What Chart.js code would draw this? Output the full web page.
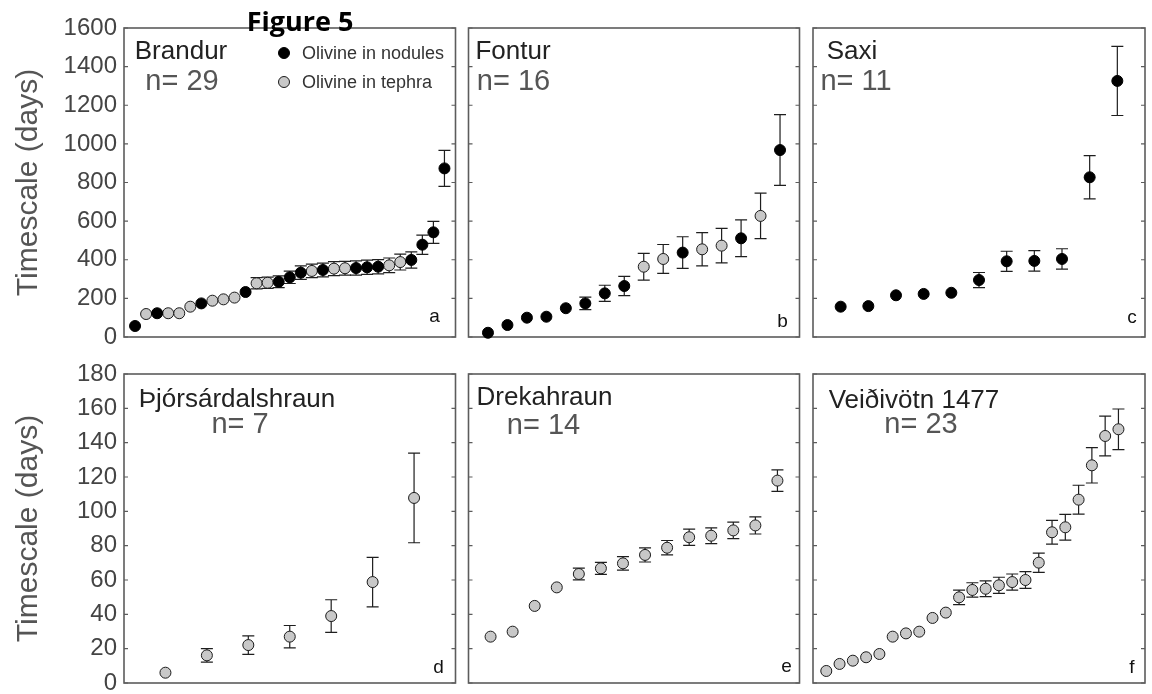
<!DOCTYPE html>
<html>
<head>
<meta charset="utf-8">
<script src="https://cdn.jsdelivr.net/npm/chart.js@4.4.1/dist/chart.umd.min.js"></script>
<style>
  html, body { margin: 0; padding: 0; background: #fff; overflow: hidden; width: 1152px; height: 694px; }
  canvas { position: absolute; }
</style>
</head>
<body>
<canvas id="pa"></canvas>
<canvas id="pb"></canvas>
<canvas id="pc"></canvas>
<canvas id="pd"></canvas>
<canvas id="pe"></canvas>
<canvas id="pf"></canvas>
<script>
// ---- Data: timescales (days), sorted per locality; N = olivine in nodules, T = olivine in tephra ----
const brandurValues = [57, 119, 123, 123, 123, 157, 174, 188, 195, 204, 233, 278, 281, 286, 309, 333, 342, 347, 354, 356, 357, 361, 364, 371, 388, 399, 478, 542, 873];
const brandurErrors = [null, null, null, null, null, null, null, null, null, null, null, 29, 29, 30, 32, 35, 35, 36, 36, 36, 37, 37, 37, 38, 41, 42, 50, 57, 93];
const brandurTypes  = ['N','T','N','T','T','T','N','T','T','T','N','T','T','N','N','N','T','N','T','T','N','N','N','T','T','N','N','N','N'];

const fonturValues = [22, 62, 100, 105, 149, 174, 226, 264, 364, 404, 437, 454, 473, 511, 627, 968];
const fonturErrors = [null, null, null, null, null, 32, 42, 50, 69, 75, 82, 86, 89, 95, 118, 183];
const fonturTypes  = ['N','N','N','N','N','N','N','N','T','T','N','T','T','N','T','N'];

const saxiValues = [157, 160, 216, 223, 229, 295, 392, 394, 404, 827, 1326];
const saxiErrors = [null, null, null, null, null, 39, 52, 53, 53, 112, 179];
const saxiTypes  = ['N','N','N','N','N','N','N','N','N','N','N'];

const thjorsValues = [6.0, 16.1, 22.1, 27.0, 39.0, 58.8, 107.8];
const thjorsErrors = [null, 3.9, 5.4, 6.5, 9.5, 14.4, 26.1];
const thjorsTypes  = ['T','T','T','T','T','T','T'];

const drekaValues = [27.0, 29.9, 44.9, 55.7, 63.5, 66.8, 69.7, 74.6, 78.8, 84.9, 85.8, 88.9, 91.8, 117.9];
const drekaErrors = [null, null, null, null, 3.4, 3.5, 3.9, 4.1, 4.2, 4.7, 4.6, 4.8, 5.0, 6.3];
const drekaTypes  = ['T','T','T','T','T','T','T','T','T','T','T','T','T','T'];

const veidiValues = [7.0, 11.1, 13.0, 15.0, 16.9, 27.0, 28.9, 29.9, 37.9, 41.0, 49.9, 54.2, 54.9, 56.9, 58.8, 60.0, 70.1, 87.8, 90.7, 106.8, 126.8, 143.9, 147.8];
const veidiErrors = [null, null, null, null, null, null, null, null, null, null, 4.2, 4.2, 4.6, 4.7, 4.7, 4.9, 5.6, 6.9, 7.5, 8.4, 10.3, 11.6, 11.8];
const veidiTypes  = ['T','T','T','T','T','T','T','T','T','T','T','T','T','T','T','T','T','T','T','T','T','T','T'];

// Axis ranges and tick labels
const topTickValues = [0, 200, 400, 600, 800, 1000, 1200, 1400, 1600];
const bottomTickValues = [0, 20, 40, 60, 80, 100, 120, 140, 160, 180];
const typeLabels = { N: 'Olivine in nodules', T: 'Olivine in tephra' };

// ---- Styling / layout ----
const FONT = "'Liberation Sans', Arial, sans-serif";
const markerStyle = {
  N: { fill: '#000000', stroke: '#000000' },
  T: { fill: '#c8c8c8', stroke: '#1a1a1a' }
};
const POINT_R = 5.5;

const cols = [
  { x: 0,   w: 462, padL: 0, padR: 4 },
  { x: 462, w: 344, padL: 6, padR: 6 },
  { x: 806, w: 346, padL: 7, padR: 7 }
];
const rows = [
  { y: 0,   h: 347, padT: 28, padB: 10, ticks: topTickValues },
  { y: 347, h: 347, padT: 27, padB: 11, ticks: bottomTickValues }
];

const panels = [
  { id: 'pa', row: 0, col: 0, xMax: 30, values: brandurValues, errors: brandurErrors, types: brandurTypes,
    name: 'Brandur', n: 'n= 29', letter: 'a', nameAt: [57, 24], nAt: [58, 54], letterAt: [21, 20], legend: true, figTitle: true },
  { id: 'pb', row: 0, col: 1, xMax: 17, values: fonturValues, errors: fonturErrors, types: fonturTypes,
    name: 'Fontur', n: 'n= 16', letter: 'b', nameAt: [44.5, 24], nAt: [45, 54], letterAt: [17, 15] },
  { id: 'pc', row: 0, col: 2, xMax: 12, values: saxiValues, errors: saxiErrors, types: saxiTypes,
    name: 'Saxi', n: 'n= 11', letter: 'c', nameAt: [39, 24], nAt: [43, 54], letterAt: [13, 19] },
  { id: 'pd', row: 1, col: 0, xMax: 8, values: thjorsValues, errors: thjorsErrors, types: thjorsTypes,
    name: 'Þjórsárdalshraun', n: 'n= 7', letter: 'd', nameAt: [113, 26], nAt: [116, 51], letterAt: [17, 15] },
  { id: 'pe', row: 1, col: 1, xMax: 15, values: drekaValues, errors: drekaErrors, types: drekaTypes,
    name: 'Drekahraun', n: 'n= 14', letter: 'e', nameAt: [76, 24], nAt: [75, 52], letterAt: [13, 16] },
  { id: 'pf', row: 1, col: 2, xMax: 25, values: veidiValues, errors: veidiErrors, types: veidiTypes,
    name: 'Veiðivötn 1477', n: 'n= 23', letter: 'f', nameAt: [101, 27], nAt: [108, 51], letterAt: [13, 15] }
];

// Frame, inward ticks, error bars and panel annotations
const panelDecor = {
  id: 'panelDecor',
  beforeDatasetsDraw(chart, args, opts) {
    const { ctx, chartArea: a, scales: { x, y } } = chart;
    const p = opts.panel;
    ctx.save();
    // error bars behind markers
    ctx.strokeStyle = '#1e1e1e';
    ctx.lineWidth = 1.2;
    p.values.forEach((v, i) => {
      const e = p.errors[i];
      if (e == null) return;
      const px = x.getPixelForValue(i + 1);
      const yTop = y.getPixelForValue(v + e);
      const yBot = y.getPixelForValue(v - e);
      ctx.beginPath();
      ctx.moveTo(px, yTop); ctx.lineTo(px, yBot);
      ctx.moveTo(px - 6, yTop); ctx.lineTo(px + 6, yTop);
      ctx.moveTo(px - 6, yBot); ctx.lineTo(px + 6, yBot);
      ctx.stroke();
    });
    // frame
    ctx.strokeStyle = '#5c5c5c';
    ctx.lineWidth = 1.6;
    ctx.strokeRect(a.left, a.top, a.right - a.left, a.bottom - a.top);
    // inward tick marks on both sides
    ctx.lineWidth = 1.2;
    opts.tickValues.forEach(t => {
      const py = y.getPixelForValue(t);
      ctx.beginPath();
      ctx.moveTo(a.left, py); ctx.lineTo(a.left + 4, py);
      ctx.moveTo(a.right - 4, py); ctx.lineTo(a.right, py);
      ctx.stroke();
    });
    ctx.restore();
  },
  afterDraw(chart, args, opts) {
    const { ctx, chartArea: a } = chart;
    const p = opts.panel;
    ctx.save();
    ctx.textAlign = 'center';
    ctx.textBaseline = 'middle';
    ctx.fillStyle = '#222';
    ctx.font = `26px ${FONT}`;
    ctx.fillText(p.name, a.left + p.nameAt[0], a.top + p.nameAt[1]);
    ctx.fillStyle = '#555';
    ctx.font = `29px ${FONT}`;
    ctx.fillText(p.n, a.left + p.nAt[0], a.top + p.nAt[1]);
    ctx.fillStyle = '#111';
    ctx.font = `19px ${FONT}`;
    ctx.fillText(p.letter, a.right - p.letterAt[0], a.bottom - p.letterAt[1]);

    if (p.legend) {
      ['N', 'T'].forEach((k, j) => {
        const cy = a.top + 25 + j * 29;
        const cx = a.left + 160;
        ctx.beginPath();
        ctx.arc(cx, cy, POINT_R, 0, Math.PI * 2);
        ctx.fillStyle = markerStyle[k].fill;
        ctx.fill();
        ctx.lineWidth = 1;
        ctx.strokeStyle = markerStyle[k].stroke;
        ctx.stroke();
        ctx.fillStyle = '#333';
        ctx.font = `18px ${FONT}`;
        ctx.textAlign = 'left';
        ctx.fillText(typeLabels[k], cx + 18, cy + 1);
      });
    }
    if (p.figTitle) {
      ctx.textAlign = 'center';
      ctx.textBaseline = 'alphabetic';
      ctx.fillStyle = '#000';
      ctx.font = `bold 27px 'Open Sans', ${FONT}`;
      ctx.fillText('Figure 5', 300, 31);
    }
    ctx.restore();
  }
};

panels.forEach(p => {
  const c = cols[p.col], r = rows[p.row];
  const canvas = document.getElementById(p.id);
  canvas.width = c.w; canvas.height = r.h;
  canvas.style.left = c.x + 'px'; canvas.style.top = r.y + 'px';
  canvas.style.width = c.w + 'px'; canvas.style.height = r.h + 'px';

  const datasets = ['N', 'T'].filter(k => p.types.includes(k)).map(k => ({
    label: typeLabels[k],
    data: p.values.map((v, i) => ({ x: i + 1, y: v })).filter((d, i) => p.types[i] === k),
    backgroundColor: markerStyle[k].fill,
    borderColor: markerStyle[k].stroke,
    borderWidth: 1,
    pointRadius: POINT_R,
    pointHoverRadius: POINT_R,
    showLine: false,
    clip: false
  }));

  const tickVals = r.ticks;
  const leftCol = p.col === 0;

  const yScale = {
    type: 'linear',
    min: tickVals[0],
    max: tickVals[tickVals.length - 1],
    display: leftCol,
    grid: { display: false, drawTicks: false },
    border: { display: false },
    afterBuildTicks: s => { s.ticks = tickVals.map(v => ({ value: v })); },
    ticks: {
      padding: 7,
      color: '#444',
      font: { family: FONT, size: 24 },
      callback: v => String(v)
    },
    title: {
      display: leftCol,
      text: 'Timescale (days)',
      color: '#555',
      font: { family: FONT, size: 30 },
      padding: { top: 11, bottom: 0 }
    }
  };
  if (leftCol) {
    yScale.afterFit = s => { s.width = 124; s.paddingTop = 0; s.paddingBottom = 0; };
  }

  new Chart(canvas, {
    type: 'scatter',
    data: { datasets },
    plugins: [panelDecor],
    options: {
      responsive: false,
      animation: false,
      devicePixelRatio: 1,
      events: [],
      layout: { padding: { left: c.padL, right: c.padR, top: r.padT, bottom: r.padB } },
      plugins: {
        legend: { display: false },
        tooltip: { enabled: false },
        panelDecor: { panel: p, tickValues: tickVals }
      },
      scales: {
        x: { type: 'linear', min: 0, max: p.xMax, display: false },
        y: yScale
      }
    }
  });
});
</script>
</body>
</html>
